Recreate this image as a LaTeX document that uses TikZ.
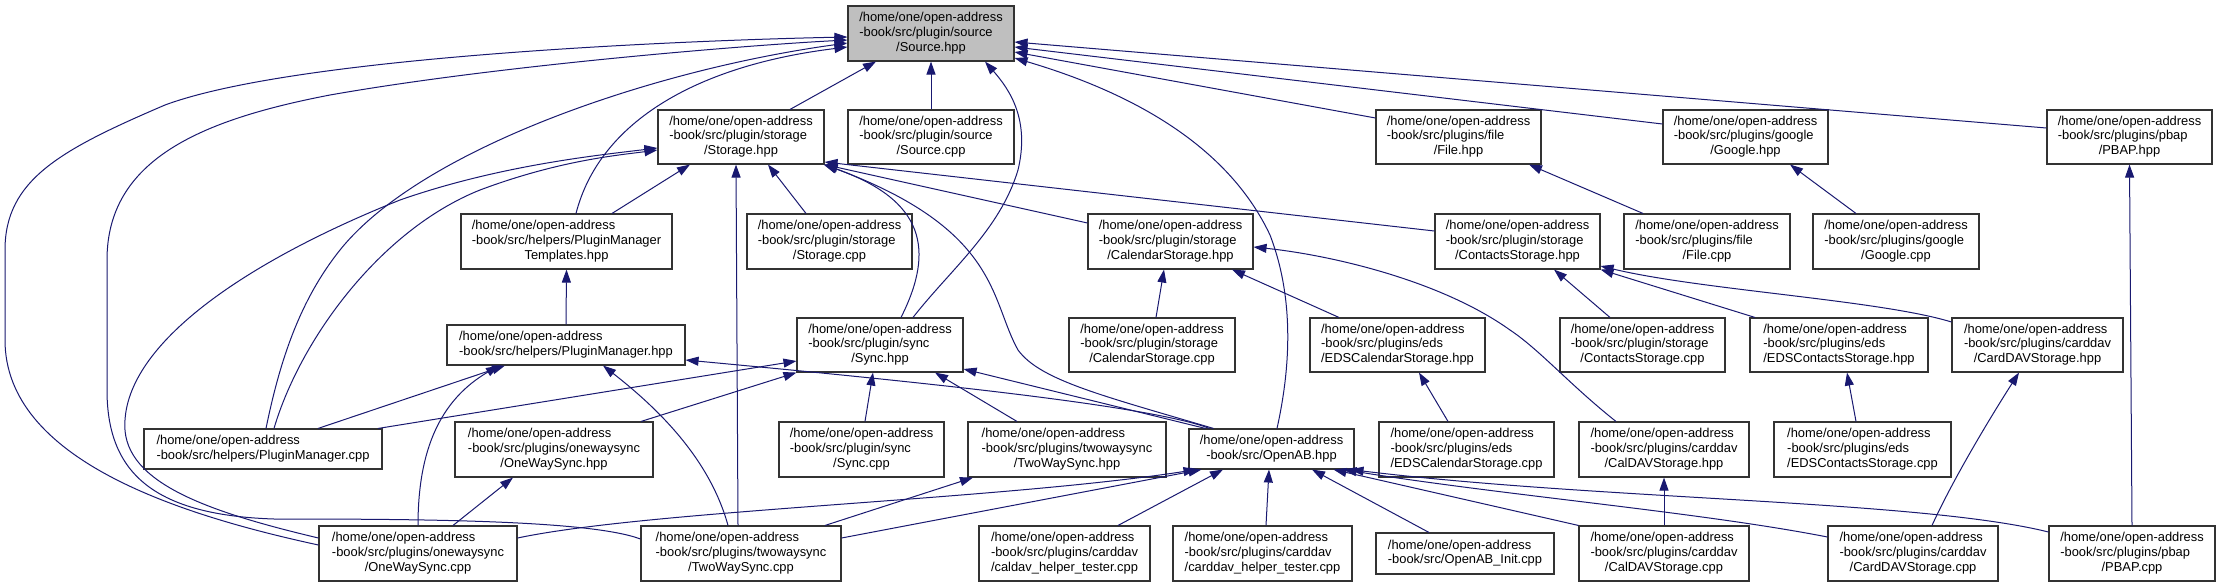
\documentclass[tikz,border=0pt]{standalone}
\usepackage{fontspec}
\setmainfont{Liberation Sans}
\usetikzlibrary{arrows.meta,calc}
\definecolor{edgecol}{HTML}{191970}
\definecolor{srcfill}{HTML}{BFBFBF}
\definecolor{boxline}{HTML}{333333}
\newcommand\labc[3]{\begin{tabular}{@{}l@{}}#1\\#2\\\multicolumn{1}{@{}c@{}}{#3}\end{tabular}}
\newcommand\labb[2]{\begin{tabular}{@{}l@{}}#1\\\multicolumn{1}{@{}c@{}}{#2}\end{tabular}}
\newcommand\hd{/home/one/open-address}
\newcommand\bx[7][white]{%
  \pgfmathsetmacro\bxw{#5-#3}\pgfmathsetmacro\bxh{#6-#4}%
  \pgfmathsetmacro\bxcx{(#3+#5)/2}\pgfmathsetmacro\bxcy{(#4+#6)/2}%
  \node[nd,fill=#1,minimum width=\bxw pt,minimum height=\bxh pt] (#2) at (\bxcx,\bxcy) {#7};}
\begin{document}
\begin{tikzpicture}[x=1pt,y=-1pt,
  nd/.style={draw=boxline,line width=1.1pt,inner sep=0pt,rectangle,
    font=\fontsize{12.9}{14.6}\selectfont},
  ed/.style={draw=edgecol,line width=1pt,-{Triangle[length=13pt,width=9pt]}}]
\useasboundingbox[fill=white] (0,0) rectangle (2220,587);
% row 0
\bx[srcfill]{src}{848}{6}{1014}{61}{\labc{\hd}{-book/src/plugin/source}{/Source.hpp}}
% row 1
\bx{sth}{658}{110}{824}{164}{\labc{\hd}{-book/src/plugin/storage}{/Storage.hpp}}
\bx{scp}{848}{110}{1014}{164}{\labc{\hd}{-book/src/plugin/source}{/Source.cpp}}
\bx{fih}{1376}{110}{1541}{164}{\labc{\hd}{-book/src/plugins/file}{/File.hpp}}
\bx{goh}{1663}{110}{1828}{164}{\labc{\hd}{-book/src/plugins/google}{/Google.hpp}}
\bx{pbh}{2047}{110}{2212}{164}{\labc{\hd}{-book/src/plugins/pbap}{/PBAP.hpp}}
% row 2
\bx{pmt}{461}{214}{672}{269}{\labc{\hd}{-book/src/helpers/PluginManager}{Templates.hpp}}
\bx{stc}{747}{214}{912}{269}{\labc{\hd}{-book/src/plugin/storage}{/Storage.cpp}}
\bx{csh}{1088}{214}{1253}{269}{\labc{\hd}{-book/src/plugin/storage}{/CalendarStorage.hpp}}
\bx{cnh}{1435}{214}{1600}{269}{\labc{\hd}{-book/src/plugin/storage}{/ContactsStorage.hpp}}
\bx{fic}{1624}{214}{1790}{269}{\labc{\hd}{-book/src/plugins/file}{/File.cpp}}
\bx{goc}{1813}{214}{1979}{269}{\labc{\hd}{-book/src/plugins/google}{/Google.cpp}}
% row 3
\bx{pmh}{447}{325}{685}{365}{\labb{\hd}{-book/src/helpers/PluginManager.hpp}}
\bx{syh}{797}{318}{963}{372}{\labc{\hd}{-book/src/plugin/sync}{/Sync.hpp}}
\bx{csc}{1069}{318}{1235}{372}{\labc{\hd}{-book/src/plugin/storage}{/CalendarStorage.cpp}}
\bx{ech}{1310}{318}{1485}{372}{\labc{\hd}{-book/src/plugins/eds}{/EDSCalendarStorage.hpp}}
\bx{cnc}{1560}{318}{1725}{372}{\labc{\hd}{-book/src/plugin/storage}{/ContactsStorage.cpp}}
\bx{enh}{1750}{318}{1928}{372}{\labc{\hd}{-book/src/plugins/eds}{/EDSContactsStorage.hpp}}
\bx{cdh}{1952}{318}{2123}{372}{\labc{\hd}{-book/src/plugins/carddav}{/CardDAVStorage.hpp}}
% row 4
\bx{pmc}{144}{429}{382}{469}{\labb{\hd}{-book/src/helpers/PluginManager.cpp}}
\bx{owh}{455}{422}{653}{477}{\labc{\hd}{-book/src/plugins/onewaysync}{/OneWaySync.hpp}}
\bx{syc}{779}{422}{944}{477}{\labc{\hd}{-book/src/plugin/sync}{/Sync.cpp}}
\bx{twh}{968}{422}{1166}{477}{\labc{\hd}{-book/src/plugins/twowaysync}{/TwoWaySync.hpp}}
\bx{oah}{1189}{429}{1354}{469}{\labb{\hd}{-book/src/OpenAB.hpp}}
\bx{ecc}{1379}{422}{1554}{477}{\labc{\hd}{-book/src/plugins/eds}{/EDSCalendarStorage.cpp}}
\bx{cvh}{1579}{422}{1749}{477}{\labc{\hd}{-book/src/plugins/carddav}{/CalDAVStorage.hpp}}
\bx{enc}{1774}{422}{1951}{477}{\labc{\hd}{-book/src/plugins/eds}{/EDSContactsStorage.cpp}}
% row 5
\bx{owc}{319}{526}{517}{581}{\labc{\hd}{-book/src/plugins/onewaysync}{/OneWaySync.cpp}}
\bx{twc}{641}{526}{841}{581}{\labc{\hd}{-book/src/plugins/twowaysync}{/TwoWaySync.cpp}}
\bx{chc}{979}{526}{1150}{581}{\labc{\hd}{-book/src/plugins/carddav}{/caldav\_helper\_tester.cpp}}
\bx{dhc}{1173}{526}{1352}{581}{\labc{\hd}{-book/src/plugins/carddav}{/carddav\_helper\_tester.cpp}}
\bx{oic}{1376}{533}{1554}{574}{\labb{\hd}{-book/src/OpenAB\_Init.cpp}}
\bx{cvc}{1579}{526}{1749}{581}{\labc{\hd}{-book/src/plugins/carddav}{/CalDAVStorage.cpp}}
\bx{cdc}{1828}{526}{1998}{581}{\labc{\hd}{-book/src/plugins/carddav}{/CardDAVStorage.cpp}}
\bx{pbc}{2049}{526}{2215}{581}{\labc{\hd}{-book/src/plugins/pbap}{/PBAP.cpp}}
% ---- edges into Source.hpp
\draw[ed] ($(sth.north)+(49,0)$) -- ($(src.south)+(-55,0)$);
\draw[ed] (scp.north) -- (src.south);
\draw[ed] ($(fih.west)+(0,-19)$) -- ($(src.east)+(0,18.5)$);
\draw[ed] ($(goh.west)+(0,-13)$) -- ($(src.east)+(0,13.5)$);
\draw[ed] ($(pbh.west)+(0,-9)$) -- ($(src.east)+(0,8.5)$);
\draw[ed] ($(oah.north)+(5.5,0)$) .. controls (1290,370) and (1295,300) .. (1270,235) .. controls (1230,150) and (1140,95) .. ($(src.east)+(0,24.5)$);
\draw[ed] ($(syh.north)+(33,0)$) .. controls (950,270) and (1000,230) .. (1018,170) .. controls (1030,120) and (1010,90) .. ($(src.south)+(54,0)$);
\draw[ed] ($(pmt.north)+(9.5,0)$) .. controls (600,120) and (700,65) .. ($(src.west)+(0,13.5)$);
\draw[ed] ($(pmc.north)+(3,0)$) .. controls (280,360) and (300,300) .. (340,250) .. controls (420,150) and (650,70) .. ($(src.west)+(0,9.5)$);
\draw[ed] ($(owc.west)+(0,-8.5)$) .. controls (180,515) and (5,460) .. (5,340) -- (5,250) .. controls (5,180) and (60,150) .. (165,105) .. controls (300,55) and (700,40) .. ($(src.west)+(0,3.5)$);
\draw[ed] ($(twc.west)+(0,-14.5)$) .. controls (590,520) and (420,519) .. (274,519) .. controls (150,515) and (107,470) .. (107,390) -- (107,260) .. controls (107,160) and (200,120) .. (330,95) .. controls (500,65) and (750,45) .. ($(src.west)+(0,6.5)$);
% ---- edges into Storage.hpp
\draw[ed] ($(pmt.north)+(45.5,0)$) -- ($(sth.south)+(-51,0)$);
\draw[ed] ($(stc.north)+(-23.5,0)$) -- ($(sth.south)+(27,0)$);
\draw[ed] ($(twc.north)+(-3,0)$) -- ($(sth.south)+(-5,0)$);
\draw[ed] ($(owc.west)+(0,-15.5)$) .. controls (200,510) and (120,480) .. (125,420) .. controls (130,340) and (250,260) .. (400,200) .. controls (500,165) and (600,155) .. ($(sth.west)+(0,11)$);
\draw[ed] ($(pmc.north)+(11,0)$) .. controls (300,340) and (380,230) .. (480,190) .. controls (560,160) and (620,155) .. ($(sth.west)+(0,13)$);
\draw[ed] ($(syh.north)+(21,0)$) .. controls (935,250) and (925,200) .. ($(sth.south east)+(-1,0)$);
\draw[ed] ($(oah.north)+(-58,0)$) .. controls (1100,395) and (1040,380) .. (1018,350) .. controls (990,300) and (1000,230) .. (sth.south east);
\draw[ed] ($(csh.west)+(0,-18.5)$) -- (sth.south east);
\draw[ed] ($(cnh.west)+(0,-10.5)$) -- ($(sth.east)+(0,25)$);
% ---- PluginManager
\draw[ed] (pmh.north) -- (pmt.south);
\draw[ed] ($(pmc.north)+(55,0)$) -- ($(pmh.south)+(-61,0)$);
\draw[ed] (owc.north) .. controls (418,450) and (440,400) .. ($(pmh.south)+(-67,0)$);
\draw[ed] ($(twc.north)+(-13,0)$) .. controls (710,460) and (660,410) .. ($(pmh.south)+(37,0)$);
\draw[ed] ($(oah.north)+(-62,0)$) .. controls (1150,405) and (900,380) .. ($(pmh.east)+(0,15)$);
% ---- Sync.hpp
\draw[ed] ($(pmc.north)+(115,0)$) -- ($(syh.west)+(0,16)$);
\draw[ed] ($(owh.north)+(87,0)$) -- (syh.south west);
\draw[ed] ($(syc.north)+(3.5,0)$) -- ($(syh.south)+(-7,0)$);
\draw[ed] ($(twh.north)+(-50,0)$) -- ($(syh.south)+(55,0)$);
\draw[ed] ($(oah.north)+(-66,0)$) -- ($(syh.east)+(0,24)$);
% ---- sync headers
\draw[ed] ($(owc.north)+(35,0)$) -- ($(owh.south)+(-41,0)$);
\draw[ed] ($(twc.north)+(84,0)$) -- ($(twh.south)+(-94,0)$);
% ---- OpenAB.hpp
\draw[ed] ($(owc.east)+(0,-15.5)$) .. controls (650,510) and (1000,500) .. ($(oah.south)+(-75,0)$);
\draw[ed] ($(twc.east)+(0,-15.5)$) -- ($(oah.south)+(-70,0)$);
\draw[ed] ($(chc.north)+(53.5,0)$) -- ($(oah.south)+(-48.5,0)$);
\draw[ed] ($(dhc.north)+(3.5,0)$) -- ($(oah.south)+(-2.5,0)$);
\draw[ed] ($(oic.north)+(-36,0)$) -- ($(oah.south)+(40.5,0)$);
\draw[ed] (cvc.north west) -- ($(oah.south)+(62,0)$);
\draw[ed] ($(cdc.west)+(0,-16.5)$) .. controls (1700,512) and (1500,495) .. ($(oah.south)+(72,0)$);
\draw[ed] ($(pbc.west)+(0,-21.5)$) .. controls (1920,500) and (1600,500) .. ($(oah.south)+(79,0)$);
% ---- plugin storages
\draw[ed] (cvc.north) -- (cvh.south);
\draw[ed] ($(cdc.north)+(19,0)$) .. controls (1955,475) and (1995,410) .. ($(cdh.south)+(-18.5,0)$);
\draw[ed] (pbc.north) -- (pbh.south);
\draw[ed] ($(csc.north)+(4,0)$) -- ($(csh.south)+(-6.5,0)$);
\draw[ed] ($(ech.north)+(-58.5,0)$) -- ($(csh.south)+(61.5,0)$);
\draw[ed] ($(cvh.north)+(-48,0)$) .. controls (1570,385) and (1540,350) .. (1510,330) .. controls (1440,280) and (1330,255) .. ($(csh.east)+(0,5.5)$);
\draw[ed] ($(cnc.north)+(-32.5,0)$) -- ($(cnh.south)+(36.5,0)$);
\draw[ed] ($(enh.north)+(-84,0)$) -- (cnh.south east);
\draw[ed] ($(cdh.west)+(0,-23)$) .. controls (1880,300) and (1700,290) .. ($(cnh.east)+(0,24.5)$);
\draw[ed] ($(fic.north)+(-64,0)$) -- ($(fih.south)+(70.5,0)$);
\draw[ed] ($(goc.north)+(-40,0)$) -- ($(goh.south)+(44.5,0)$);
\draw[ed] ($(ecc.north)+(-18.5,0)$) -- ($(ech.south)+(21.5,0)$);
\draw[ed] ($(enc.north)+(-6.5,0)$) -- ($(enh.south)+(8,0)$);
\end{tikzpicture}
\end{document}
